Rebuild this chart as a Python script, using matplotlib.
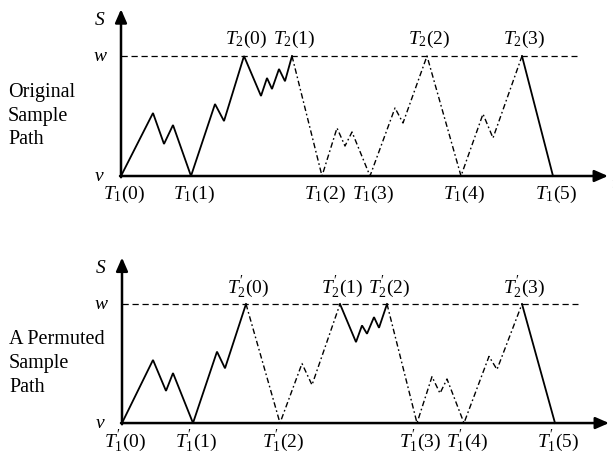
"""Original vs permuted sample path between barriers v and w."""

import matplotlib
matplotlib.use("Agg")
import matplotlib.pyplot as plt

plt.rcParams["font.family"] = ["Liberation Serif", "DejaVu Serif"]
plt.rcParams["mathtext.fontset"] = "custom"
plt.rcParams["mathtext.rm"] = "Liberation Serif"
plt.rcParams["mathtext.it"] = "Liberation Serif:italic"

# path vertices: time (arbitrary units) and level (v = 0, w = 1)
top_t = [0, 32, 43, 52, 70, 94, 103, 123, 140, 146, 151, 158, 164, 171,
         201, 216, 224, 231, 249, 274, 282, 306, 340, 362, 372, 401, 432]
top_s = [0, 0.525, 0.267, 0.425, 0, 0.6, 0.458, 1, 0.667, 0.817, 0.725, 0.892, 0.79, 1,
         0, 0.4, 0.25, 0.367, 0, 0.567, 0.442, 1, 0, 0.517, 0.317, 1, 0]

bot_t = [0, 31, 44, 51, 71, 95, 103, 124, 158, 180, 190, 218, 234, 240, 245, 252,
         257, 265, 295, 310, 318, 325, 342, 367, 375, 400, 433]
bot_s = [0, 0.53, 0.27, 0.42, 0, 0.6, 0.46, 1, 0, 0.5, 0.32, 1, 0.68, 0.82, 0.75, 0.89,
         0.8, 1, 0, 0.39, 0.25, 0.37, 0, 0.56, 0.45, 1, 0]

top_t1_labels = [r"$T_1(%d)$" % i for i in range(6)]
top_t2_labels = [r"$T_2(%d)$" % i for i in range(4)]
bot_t1_labels = [r"$T_1^{\prime}(%d)$" % i for i in range(6)]
bot_t2_labels = [r"$T_2^{\prime}(%d)$" % i for i in range(4)]

top_title = "Original\nSample\nPath"
bot_title = "A Permuted\nSample\nPath"

# which vertex ranges are drawn solid / dash-dot
top_pieces = [(0, 13, "-"), (13, 25, "dashdot"), (25, 26, "-")]
bot_pieces = [(0, 7, "-"), (7, 11, "dashdot"), (11, 17, "-"), (17, 25, "dashdot"), (25, 26, "-")]

fig = plt.figure(figsize=(6.13, 4.54), dpi=100)


def draw_panel(rect, xlim, ylim, ts, ss, pieces, t1_labels, t2_labels, title):
    ax = fig.add_axes(rect)
    ax.set_xlim(*xlim)
    ax.set_ylim(*ylim)
    ax.axis("off")

    for i0, i1, ls in pieces:
        if ls == "-":
            ax.plot(ts[i0:i1 + 1], ss[i0:i1 + 1], color="black", lw=1.3,
                    solid_joinstyle="miter")
        else:
            ax.plot(ts[i0:i1 + 1], ss[i0:i1 + 1], color="black", lw=1.0,
                    ls=(0, (4, 2, 1.2, 2)))

    # w barrier
    ax.plot([0, 456], [1, 1], color="black", lw=0.9, ls=(0, (5, 3)))

    # axes with arrows
    arrow = dict(arrowstyle="-|>,head_length=0.8,head_width=0.35", lw=1.8,
                 color="black", shrinkA=0, shrinkB=0)
    ax.annotate("", xy=(487, 0), xytext=(-1, 0), arrowprops=arrow)
    ax.annotate("", xy=(0, 1.39), xytext=(0, -0.01), arrowprops=arrow)

    ax.text(-21, 1.3, "S", style="italic", fontsize=14, ha="center", va="center")
    ax.text(-21, 1.0, "w", style="italic", fontsize=14, ha="center", va="center")
    ax.text(-22, 0.0, "v", style="italic", fontsize=14, ha="center", va="center")
    ax.text(490, -0.07, "t", style="italic", fontsize=14, ha="left", va="center")

    zeros = [t for t, s in zip(ts, ss) if s == 0]
    ones = [t for t, s in zip(ts, ss) if s == 1]
    for t, lab in zip(zeros, t1_labels):
        ax.text(t + 3, -0.15, lab, fontsize=14, ha="center", va="center")
    for t, lab in zip(ones, t2_labels):
        ax.text(t + 2, 1.14, lab, fontsize=14, ha="center", va="center")

    ax.text(-113, 0.5, title, fontsize=14.5, ha="left", va="center",
            linespacing=1.35)
    return ax


draw_panel([0, 0.5, 1, 0.5], (-121, 492), (-0.425, 1.467),
           top_t, top_s, top_pieces, top_t1_labels, top_t2_labels, top_title)
draw_panel([0, 0, 1, 0.5], (-122, 491), (-0.26, 1.647),
           bot_t, bot_s, bot_pieces, bot_t1_labels, bot_t2_labels, bot_title)

fig.savefig("out.png", dpi=100)
